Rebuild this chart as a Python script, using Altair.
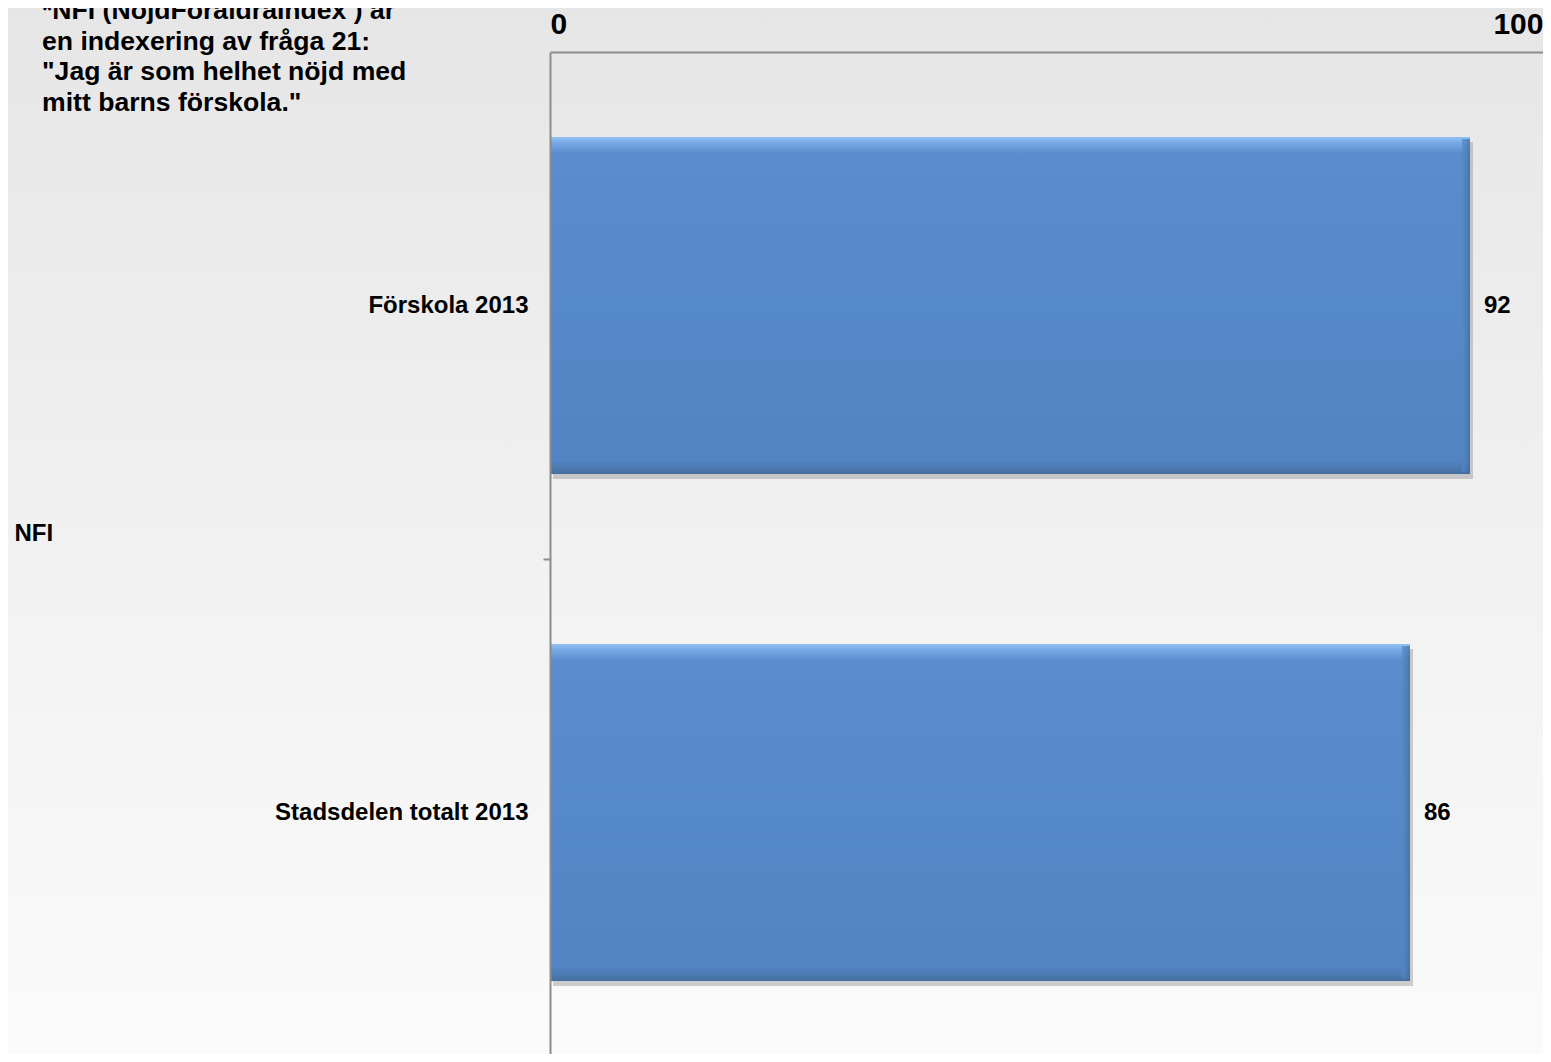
import altair as alt
import pandas as pd

categories = ["Förskola 2013", "Stadsdelen totalt 2013"]
values = [92, 86]
group_label = "NFI"
axis_ticks = [0, 100]
note_lines = [
    "*NFI (NöjdFöräldraIndex ) är",
    "en indexering av fråga 21:",
    "\"Jag är som helhet nöjd med",
    "mitt barns förskola.\"",
]

FONT = "Liberation Sans"
W, H = 993, 1002          # visible plot area (canvas kept inside the window)
RANGE_X, RANGE_Y = 1000, 1014  # scale ranges (plot continues past the window edge)
STEP = RANGE_Y / 2
BAND = 0.665 * STEP

df = pd.DataFrame({"cat": categories, "val": values})

x_scale = alt.Scale(domain=[0, 100], nice=False, range=[0, RANGE_X])
y_scale = alt.Scale(domain=categories, paddingInner=0.335, paddingOuter=0.1675,
                    range=[0, RANGE_Y])

bg = alt.Chart(pd.DataFrame({"k": [0]})).mark_rect(
    color=alt.Gradient(
        gradient="linear", x1=0, y1=0, x2=0, y2=1,
        stops=[alt.GradientStop(color="#e6e6e6", offset=0),
               alt.GradientStop(color="#f1f1f1", offset=0.5),
               alt.GradientStop(color="#fbfbfb", offset=1)],
    )
).encode(
    x=alt.value(-542), x2=alt.value(W + 10), y=alt.value(-44), y2=alt.value(H + 20)
)

shadow = alt.Chart(df).mark_bar(color="#8a8a8a", opacity=0.4, yOffset=5, xOffset=3).encode(
    x=alt.X("val:Q", scale=x_scale),
    y=alt.Y("cat:N", scale=y_scale, sort=categories),
)

bars = alt.Chart(df).mark_bar(
    color=alt.Gradient(
        gradient="linear", x1=0, y1=0, x2=0, y2=1,
        stops=[alt.GradientStop(color="#92c0f3", offset=0),
               alt.GradientStop(color="#74a6e3", offset=0.02),
               alt.GradientStop(color="#5a8cce", offset=0.05),
               alt.GradientStop(color="#5689c9", offset=0.5),
               alt.GradientStop(color="#5284c3", offset=0.96),
               alt.GradientStop(color="#466f9f", offset=1)],
    ),
).encode(
    x=alt.X(
        "val:Q", scale=x_scale,
        axis=alt.Axis(
            orient="top", values=axis_ticks, title=None, zindex=1,
            grid=False, ticks=False, domainColor="#8c8c8c", domainWidth=2,
            labelFontSize=30, labelFont=FONT, labelFontWeight="bold",
            labelColor="#000000", labelPadding=13,
            labelAlign=alt.condition("datum.value == 0", alt.value("left"), alt.value("right")),
            labelOffset=alt.condition("datum.value == 0", alt.value(0), alt.value(-7)),
        ),
    ),
    y=alt.Y(
        "cat:N", scale=y_scale, sort=categories,
        axis=alt.Axis(
            title=group_label, titleAngle=0, titleX=-536, titleY=481, zindex=1,
            titleAlign="left", titleBaseline="middle", titleFont=FONT,
            titleFontSize=24, titleFontWeight="bold", titleColor="#000000",
            tickOffset=STEP / 2, labelOffset=-STEP / 2,
            tickSize=7, tickColor="#8c8c8c", tickWidth=2,
            domainColor="#8c8c8c", domainWidth=2,
            labelFont=FONT, labelFontSize=24, labelFontWeight="bold",
            labelColor="#000000", labelPadding=15, labelLimit=500,
        ),
    ),
)

edge = alt.Chart(df).mark_tick(
    orient="vertical", thickness=8, size=BAND - 4, xOffset=-4,
    color=alt.Gradient(
        gradient="linear", x1=0, y1=0, x2=1, y2=0,
        stops=[alt.GradientStop(color="#5689c9", offset=0),
               alt.GradientStop(color="#4c79b1", offset=0.6),
               alt.GradientStop(color="#44699a", offset=1)],
    ),
).encode(
    x=alt.X("val:Q", scale=x_scale),
    y=alt.Y("cat:N", scale=y_scale, sort=categories),
)

labels = alt.Chart(df).mark_text(
    align="left", baseline="middle", dx=14, font=FONT, fontSize=24,
    fontWeight="bold", color="#000000",
).encode(
    x=alt.X("val:Q", scale=x_scale),
    y=alt.Y("cat:N", scale=y_scale, sort=categories),
    text=alt.Text("val:Q"),
)

note = alt.Chart(pd.DataFrame({"t": ["\n".join(note_lines)]})).mark_text(
    align="left", baseline="alphabetic", lineBreak="\n", lineHeight=30.7,
    font=FONT, fontSize=26.6, fontWeight="bold", color="#000000",
).encode(
    x=alt.value(-508), y=alt.value(-33), text="t:N"
)

chart = alt.layer(bg, shadow, bars, edge, labels, note).properties(
    width=W, height=H,
    autosize=alt.AutoSizeParams(type="none"),
    padding={"left": 542, "top": 44, "right": 0, "bottom": 0},
    background="#f0f0f0",
).configure_view(stroke=None, clip=False).configure(font=FONT)

chart.save("out.html", embed_options={"renderer": "svg", "actions": False})
